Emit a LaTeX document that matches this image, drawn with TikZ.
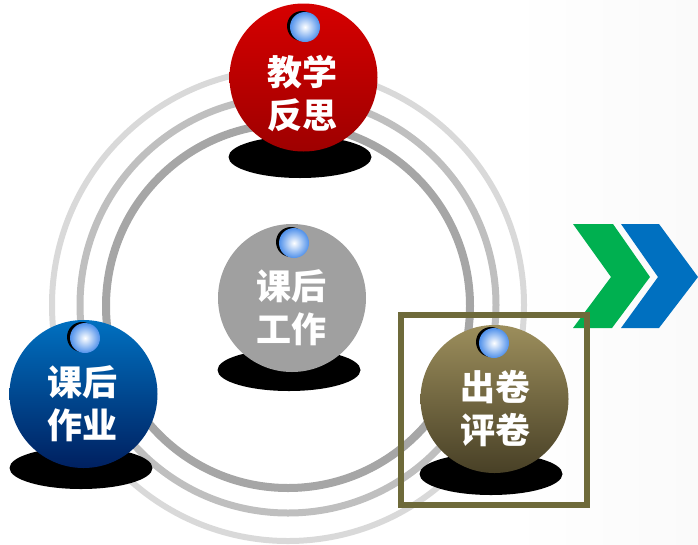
\documentclass[tikz,border=0pt]{standalone}
\usepackage{fontspec}
\newfontfamily\cjk{Noto Sans CJK SC}
\usetikzlibrary{shapes.geometric}
\definecolor{ringA}{RGB}{217,217,217}
\definecolor{ringB}{RGB}{191,191,191}
\definecolor{ringC}{RGB}{166,166,166}
\definecolor{redT}{RGB}{214,0,0}
\definecolor{redB}{RGB}{158,0,0}
\definecolor{blueT}{RGB}{0,112,192}
\definecolor{blueB}{RGB}{0,32,96}
\definecolor{oliveT}{RGB}{156,142,92}
\definecolor{oliveB}{RGB}{72,64,38}
\definecolor{grayball}{RGB}{160,160,160}
\definecolor{frameol}{RGB}{110,106,58}
\definecolor{chevg}{RGB}{0,176,80}
\definecolor{chevb}{RGB}{0,112,192}
\definecolor{iconblue}{RGB}{80,145,235}
\begin{document}
\begin{tikzpicture}[x=1pt,y=-1pt,
  ball/.style={circle, minimum size=148pt, inner sep=0pt, draw=none},
  shadowell/.style={ellipse, fill=black, minimum width=143pt, minimum height=42pt, inner sep=0pt},
  iconback/.style={circle, fill=black, minimum size=30pt, inner sep=0pt},
  iconfront/.style={circle, inner color=white, outer color=iconblue, minimum size=30pt, inner sep=0pt},
  lbl/.style={text=white, font=\cjk\bfseries\fontsize{35}{43}\selectfont, align=center, inner sep=0pt}]
\useasboundingbox (0,0) rectangle (698,544);
% faint background tint on the right
\shade[left color=white, right color=black!2] (510,0) rectangle (698,544);
% rings
\draw[line width=6pt, ringA] (288,305) circle[radius=236];
\draw[line width=7pt, ringB] (288,305) circle[radius=208];
\draw[line width=8pt, ringC] (288,306) circle[radius=182];
% shadows
\node[shadowell] (s1) at (300,157) {};
\node[shadowell] (s2) at (289,370) {};
\node[shadowell] (s3) at (81,468) {};
\node[shadowell] (s4) at (491,474) {};
% balls
\node[ball, top color=redT, bottom color=redB] (b1) at (303.5,77.5) {};
\node[ball, fill=grayball] (b2) at (292,298) {};
\node[ball, top color=blueT, bottom color=blueB] (b3) at (83.5,394) {};
\node[ball, top color=oliveT, bottom color=oliveB] (b4) at (494.5,399) {};
% icons
\node[iconback] (i1b) at (302,26) {};
\node[iconfront] (i1) at (305,27) {};
\node[iconback] (i2b) at (291,242) {};
\node[iconfront] (i2) at (294,243) {};
\node[iconback] (i3b) at (82,337) {};
\node[iconfront] (i3) at (85,338) {};
\node[iconback] (i4b) at (491,342) {};
\node[iconfront] (i4) at (494,343) {};
% labels
\node[lbl] (t1) at (302.5,94) {教学\\反思};
\node[lbl] (t2) at (291,308) {课后\\工作};
\node[lbl] (t3) at (82.5,404) {课后\\作业};
\node[lbl] (t4) at (495,409) {出卷\\评卷};
% chevrons
\fill[chevg] (573,224) -- (613,224) -- (650,277) -- (612,328) -- (573,328) -- (611,277) -- cycle;
\fill[chevb] (621,224) -- (659,224) -- (698,277) -- (659,328) -- (621,328) -- (658,277) -- cycle;
% highlight frame
\draw[line width=5.5pt, frameol] (401,315) rectangle (587,505);
\end{tikzpicture}
\end{document}
